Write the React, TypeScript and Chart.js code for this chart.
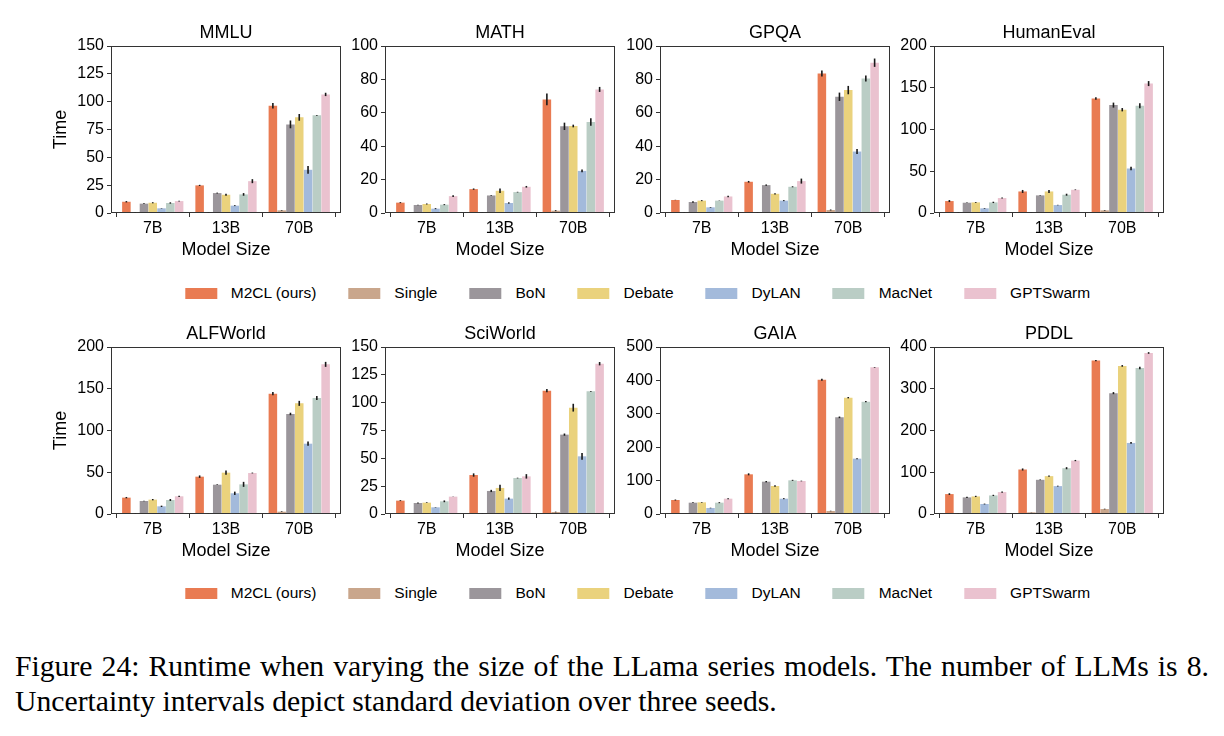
import React, { useEffect, useRef } from "react";
import { Chart, registerables } from "chart.js";

Chart.register(...registerables);
Chart.defaults.font.family = "'Liberation Sans', Arial, sans-serif";
Chart.defaults.color = "#000";

// Model sizes on the x axis and the compared methods
const sizes = ["7B", "13B", "70B"];
const methods = ["M2CL (ours)", "Single", "BoN", "Debate", "DyLAN", "MacNet", "GPTSwarm"];
const methodColors = ["#E97B52", "#C9A68C", "#9B969B", "#EAD27D", "#A3BADB", "#BACDC5", "#EAC2CF"];

// Runtime per method (rows) for 7B / 13B / 70B, with standard deviations
const mmluTime = [[10.1, 24.8, 96.3], [0.3, 0.4, 2.4], [8.4, 17.9, 79.6], [9.2, 16.4, 85.9], [4.2, 6.6, 38.8], [9.0, 16.7, 87.7], [10.7, 28.6, 106.5]];
const mmluStd = [[0.6, 0.5, 2.5], [0.1, 0.1, 0.3], [0.4, 0.4, 3.5], [0.5, 0.8, 3.0], [0.2, 0.4, 3.5], [0.6, 1.2, 0.3], [0.4, 1.8, 1.5]];

const mathTime = [[6.2, 14.3, 68.0], [0.2, 0.2, 1.4], [4.8, 10.5, 51.9], [5.4, 13.3, 52.1], [2.6, 6.0, 25.2], [5.0, 12.5, 54.5], [10.1, 15.7, 74.0]];
const mathStd = [[0.3, 0.4, 3.5], [0.05, 0.05, 0.3], [0.2, 0.2, 2.2], [0.3, 1.3, 0.8], [0.3, 0.4, 0.8], [0.3, 0.2, 2.2], [0.5, 0.5, 1.5]];

const gpqaTime = [[7.8, 18.7, 83.5], [0.2, 0.4, 1.8], [6.6, 16.7, 69.6], [7.4, 11.5, 73.6], [3.4, 7.4, 36.8], [7.4, 15.7, 80.5], [9.9, 19.1, 90.0]];
const gpqaStd = [[0.1, 0.5, 1.8], [0.05, 0.1, 0.3], [0.4, 0.4, 2.5], [0.3, 0.4, 2.5], [0.2, 0.3, 1.5], [0.1, 0.3, 1.8], [0.5, 1.5, 2.5]];

const humanEvalTime = [[14.3, 25.8, 137.2], [0.4, 0.5, 3.2], [12.3, 21.1, 129.2], [12.7, 25.8, 123.7], [5.6, 9.5, 53.3], [12.7, 21.9, 128.4], [17.9, 27.8, 155.0]];
const humanEvalStd = [[1.2, 1.8, 1.5], [0.1, 0.1, 0.4], [0.4, 0.3, 3.0], [0.5, 1.8, 2.0], [0.4, 0.3, 2.0], [0.8, 1.2, 3.0], [0.6, 0.4, 3.0]];

const alfWorldTime = [[19.6, 44.7, 144.1], [0.4, 0.6, 2.8], [15.6, 35.1, 119.8], [17.2, 49.5, 132.5], [9.2, 24.8, 84.2], [16.8, 35.5, 138.9], [21.2, 49.1, 179.2]];
const alfWorldStd = [[0.8, 1.5, 2.0], [0.1, 0.1, 0.4], [0.3, 0.4, 1.5], [0.8, 2.5, 3.0], [0.8, 2.0, 2.5], [1.2, 3.0, 2.5], [0.8, 0.5, 3.0]];

const sciWorldTime = [[12.0, 35.0, 110.8], [0.3, 0.4, 1.8], [9.9, 20.7, 71.3], [10.2, 23.4, 95.5], [6.0, 13.8, 51.8], [11.4, 32.3, 110.2], [15.6, 33.8, 135.0]];
const sciWorldStd = [[0.4, 1.5, 1.5], [0.1, 0.1, 0.3], [0.5, 1.0, 1.0], [0.3, 2.8, 3.5], [0.2, 1.0, 3.0], [0.8, 0.3, 0.3], [0.2, 2.0, 1.5]];

const gaiaTime = [[41.9, 118.8, 402.0], [0.8, 1.5, 9.0], [33.9, 96.8, 289.4], [34.9, 83.8, 348.3], [18.0, 45.9, 165.7], [33.9, 100.8, 336.3], [45.9, 98.8, 439.0]];
const gaiaStd = [[1.5, 3.0, 3.0], [0.2, 0.3, 0.8], [1.0, 2.0, 2.5], [1.0, 2.5, 2.0], [0.8, 1.5, 1.5], [1.5, 1.5, 2.0], [1.5, 1.0, 1.0]];

const pddlTime = [[47.7, 106.6, 367.4], [1.0, 4.0, 11.9], [39.8, 81.9, 289.5], [42.1, 90.7, 354.7], [23.9, 66.8, 170.2], [44.5, 109.7, 349.9], [52.5, 128.0, 385.7]];
const pddlStd = [[2.0, 2.5, 1.5], [0.2, 0.3, 0.8], [1.5, 0.8, 2.5], [1.5, 1.5, 2.0], [1.0, 1.0, 2.0], [1.5, 2.5, 3.0], [1.5, 1.5, 2.0]];

type PanelSpec = {
  title: string;
  values: number[][];
  std: number[][];
  yMax: number;
  yStep: number;
  col: number;
  row: number;
};

const panels: PanelSpec[] = [
  { title: "MMLU", values: mmluTime, std: mmluStd, yMax: 150, yStep: 25, col: 0, row: 0 },
  { title: "MATH", values: mathTime, std: mathStd, yMax: 100, yStep: 20, col: 1, row: 0 },
  { title: "GPQA", values: gpqaTime, std: gpqaStd, yMax: 100, yStep: 20, col: 2, row: 0 },
  { title: "HumanEval", values: humanEvalTime, std: humanEvalStd, yMax: 200, yStep: 50, col: 3, row: 0 },
  { title: "ALFWorld", values: alfWorldTime, std: alfWorldStd, yMax: 200, yStep: 50, col: 0, row: 1 },
  { title: "SciWorld", values: sciWorldTime, std: sciWorldStd, yMax: 150, yStep: 25, col: 1, row: 1 },
  { title: "GAIA", values: gaiaTime, std: gaiaStd, yMax: 500, yStep: 100, col: 2, row: 1 },
  { title: "PDDL", values: pddlTime, std: pddlStd, yMax: 400, yStep: 100, col: 3, row: 1 },
];

// Figure geometry (plot-area boxes)
const PLOT_LEFTS = [111, 385, 660, 934];
const ROW_TOPS = [46, 347];
const PLOT_W = 230;
const PLOT_H = 167;
const Y_AXIS_W = 61;
const X_AXIS_H = 48;
const TOP_PAD = 40;
const RIGHT_PAD = 4;
const LEGEND_CENTERS_Y = [293, 593];
const AXIS_COLOR = "#333";
const TICK_FONT = 16;
const LABEL_FONT = 18;

const framePlugin = {
  id: "frame",
  afterDatasetsDraw(chart: any) {
    const { ctx, chartArea } = chart;
    ctx.save();
    ctx.strokeStyle = AXIS_COLOR;
    ctx.lineWidth = 1;
    ctx.strokeRect(chartArea.left + 0.5, chartArea.top + 0.5, chartArea.right - chartArea.left - 1, chartArea.bottom - chartArea.top - 1);
    ctx.restore();
  },
};

const errorBarPlugin = {
  id: "errorBars",
  afterDatasetsDraw(chart: any) {
    const { ctx } = chart;
    const yScale = chart.scales.y;
    ctx.save();
    ctx.strokeStyle = "#1a1a1a";
    ctx.lineWidth = 1.6;
    chart.data.datasets.forEach((ds: any, i: number) => {
      const meta = chart.getDatasetMeta(i);
      meta.data.forEach((bar: any, j: number) => {
        const v = ds.data[j].y;
        const e = ds.errors[j];
        const top = yScale.getPixelForValue(v + e);
        const bottom = yScale.getPixelForValue(Math.max(0, v - e));
        ctx.beginPath();
        ctx.moveTo(bar.x, top);
        ctx.lineTo(bar.x, bottom);
        ctx.stroke();
      });
    });
    ctx.restore();
  },
};

const panelTitlePlugin = {
  id: "panelTitle",
  afterDraw(chart: any) {
    const { ctx, chartArea } = chart;
    const text = chart.options.plugins.panelTitle.text;
    ctx.save();
    ctx.font = `${LABEL_FONT}px 'Liberation Sans', Arial, sans-serif`;
    ctx.fillStyle = "#000";
    ctx.textAlign = "center";
    ctx.textBaseline = "middle";
    ctx.fillText(text, (chartArea.left + chartArea.right) / 2, chartArea.top - 13);
    ctx.restore();
  },
};

function Panel({ spec }: { spec: PanelSpec }) {
  const ref = useRef<HTMLCanvasElement | null>(null);
  const width = Y_AXIS_W + PLOT_W + RIGHT_PAD;
  const height = TOP_PAD + PLOT_H + X_AXIS_H;
  const left = PLOT_LEFTS[spec.col] - Y_AXIS_W;
  const top = ROW_TOPS[spec.row] - TOP_PAD;

  useEffect(() => {
    if (!ref.current) return;
    const chart = new Chart(ref.current, {
      type: "bar",
      data: {
        datasets: methods.map((m, i) => ({
          label: m,
          data: spec.values[i].map((v, j) => ({ x: j, y: v })),
          errors: spec.std[i],
          backgroundColor: methodColors[i],
          borderWidth: 0,
          categoryPercentage: 0.84,
          barPercentage: 0.97,
        })) as any,
      },
      options: {
        responsive: false,
        animation: false,
        devicePixelRatio: 1,
        layout: { padding: { top: TOP_PAD, right: RIGHT_PAD, left: 0, bottom: 0 } },
        plugins: {
          legend: { display: false },
          tooltip: { enabled: false },
          panelTitle: { text: spec.title },
        } as any,
        scales: {
          x: {
            type: "linear",
            min: -0.57,
            max: 2.57,
            offset: false,
            afterBuildTicks: (s: any) => {
              s.ticks = sizes.map((_, i) => ({ value: i }));
            },
            afterFit: (s: any) => {
              s.height = X_AXIS_H;
            },
            ticks: {
              callback: (v: any) => sizes[v as number],
              font: { size: TICK_FONT },
              color: "#000",
              padding: 2,
              maxRotation: 0,
              autoSkip: false,
            },
            grid: { drawOnChartArea: false, drawTicks: true, tickLength: 4, color: AXIS_COLOR, lineWidth: 1 },
            border: { display: false },
            title: { display: true, text: "Model Size", font: { size: LABEL_FONT }, color: "#000", padding: 0 },
          },
          y: {
            min: 0,
            max: spec.yMax,
            afterFit: (s: any) => {
              s.width = Y_AXIS_W;
            },
            ticks: { stepSize: spec.yStep, font: { size: TICK_FONT }, color: "#000", padding: 3 },
            grid: { drawOnChartArea: false, drawTicks: true, tickLength: 4, color: AXIS_COLOR, lineWidth: 1 },
            border: { display: false },
            title: { display: spec.col === 0, text: "Time", font: { size: LABEL_FONT }, color: "#000", padding: 0 },
          },
        } as any,
      },
      plugins: [framePlugin, errorBarPlugin, panelTitlePlugin],
    });
    return () => chart.destroy();
  }, [spec]);

  return (
    <canvas
      ref={ref}
      width={width}
      height={height}
      style={{ position: "absolute", left, top, width, height }}
    />
  );
}

function Legend({ centerY }: { centerY: number }) {
  const center = (PLOT_LEFTS[0] + PLOT_LEFTS[3] + PLOT_W) / 2;
  return (
    <div
      style={{
        position: "absolute",
        left: center,
        top: centerY - 10,
        height: 20,
        transform: "translateX(-50%)",
        display: "flex",
        alignItems: "center",
        whiteSpace: "nowrap",
        fontFamily: "'Liberation Sans', Arial, sans-serif",
        fontSize: 15.5,
        lineHeight: "20px",
        color: "#000",
        gap: 32,
      }}
    >
      {methods.map((m, i) => (
        <div key={m} style={{ display: "flex", alignItems: "center" }}>
          <span style={{ display: "inline-block", width: 32, height: 11, background: methodColors[i], marginRight: 14 }} />
          <span>{m}</span>
        </div>
      ))}
    </div>
  );
}

export default function App() {
  return (
    <div style={{ position: "absolute", left: 0, top: 0, width: 1224, height: 736, background: "#fff", overflow: "hidden" }}>
      {panels.map((p) => (
        <Panel key={p.title} spec={p} />
      ))}
      {LEGEND_CENTERS_Y.map((y) => (
        <Legend key={y} centerY={y} />
      ))}
      <div
        style={{
          position: "absolute",
          left: 15,
          top: 649,
          width: 1194,
          fontFamily: "'Liberation Serif', 'Times New Roman', serif",
          fontSize: 29.7,
          lineHeight: "35px",
          color: "#000",
        }}
      >
        <div style={{ textAlign: "justify", textAlignLast: "justify" as any, whiteSpace: "nowrap" }}>
          Figure 24: Runtime when varying the size of the LLama series models. The number of LLMs is 8.
        </div>
        <div>Uncertainty intervals depict standard deviation over three seeds.</div>
      </div>
    </div>
  );
}
